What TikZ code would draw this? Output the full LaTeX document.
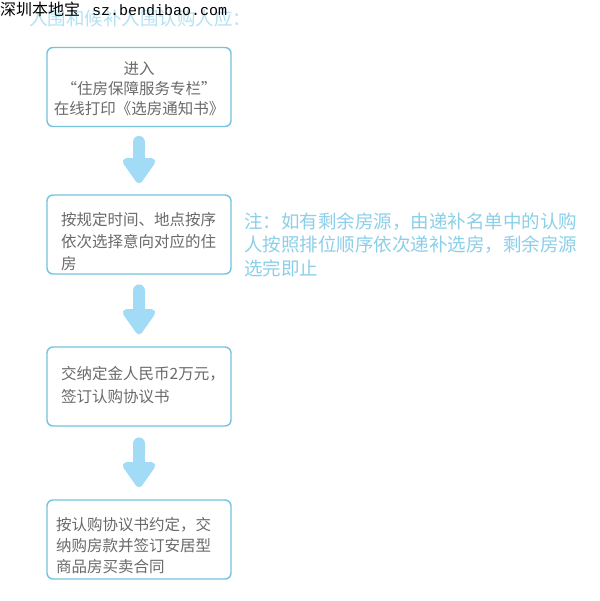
\documentclass[tikz,border=0pt]{standalone}
\usepackage{fontspec}
\newfontfamily\cjk{Noto Sans CJK SC}
\newfontfamily\monof{Liberation Mono}
\usetikzlibrary{arrows.meta,calc}
\definecolor{boxline}{HTML}{74C4DE}
\definecolor{arrowblue}{HTML}{A2DBF5}
\definecolor{greytext}{HTML}{6A6A6A}
\definecolor{notetext}{HTML}{8CCFE9}
\definecolor{toptext}{HTML}{B5E2F3}
\tikzset{
  stepbox/.style={draw=boxline, line width=1.4pt, rounded corners=6pt, fill=white,
    minimum width=184pt, minimum height=79pt, inner sep=0pt},
  steptext/.style={text=greytext, font=\cjk\fontsize{15.5}{21}\selectfont, inner sep=0pt},
  bigarrow/.style={draw=arrowblue, line width=12.5pt, line cap=round,
    -{Triangle[width=37pt,length=28pt,round]}},
}
\begin{document}
\begin{tikzpicture}[x=1pt,y=-1pt]
\useasboundingbox[fill=white] (0,0) rectangle (599,601);
% header
\node[anchor=base west, inner sep=0pt, text=toptext, font=\cjk\fontsize{18.5}{20}\selectfont] (title) at (29,26) {入围和候补入围认购人应：};
\node[anchor=base west, inner sep=0pt, text=black, font=\cjk\fontsize{16}{18}\selectfont] (wm) at (0,16) {深圳本地宝};
\node[anchor=base west, inner sep=0pt, text=black, font=\monof\fontsize{15}{18}\selectfont] (wmurl) at (92,16) {sz.bendibao.com};
% boxes
\node[stepbox] (b1) at (139,87) {};
\node[stepbox] (b2) at (139,234.5) {};
\node[stepbox] (b3) at (139,386.5) {};
\node[stepbox] (b4) at (139,539.5) {};
% texts
\node[steptext, align=center, font=\cjk\fontsize{15.5}{20}\selectfont] (t1) at (139,88.5) {进入\\“住房保障服务专栏”\\在线打印《选房通知书》};
\node[steptext, align=left, anchor=west, font=\cjk\fontsize{15.5}{22}\selectfont] (t2) at (61,242) {按规定时间、地点按序\\依次选择意向对应的住\\房};
\node[steptext, align=left, anchor=west, font=\cjk\fontsize{15.5}{23}\selectfont] (t3) at (61,385) {交纳定金人民币2万元，\\签订认购协议书};
\node[steptext, align=left, anchor=west, font=\cjk\fontsize{15.5}{21}\selectfont] (t4) at (56,546) {按认购协议书约定，交\\纳购房款并签订安居型\\商品房买卖合同};
% note
\node[anchor=west, align=left, inner sep=0pt, text=notetext, font=\cjk\fontsize{18.5}{23.5}\selectfont] (note) at (244,244.5) {注：如有剩余房源，由递补名单中的认购\\人按照排位顺序依次递补选房，剩余房源\\选完即止};
% arrows
\draw[bigarrow] ($(b1.south)+(0,15)$) -- ($(b2.north)+(0,-11)$);
\draw[bigarrow] ($(b2.south)+(0,16)$) -- ($(b3.north)+(0,-12)$);
\draw[bigarrow] ($(b3.south)+(0,17)$) -- ($(b4.north)+(0,-12)$);
\end{tikzpicture}
\end{document}
